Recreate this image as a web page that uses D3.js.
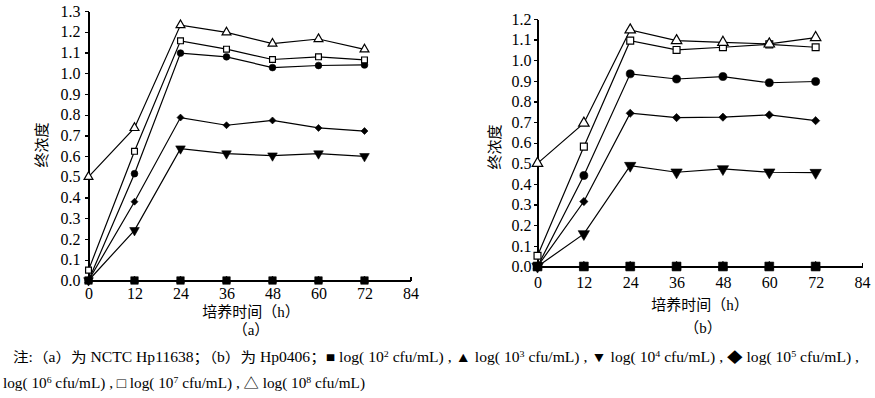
<!DOCTYPE html>
<html>
<head>
<meta charset="utf-8">
<script src="https://cdn.jsdelivr.net/npm/d3@7/dist/d3.min.js"></script>
<style>
	html, body { margin: 0; padding: 0; background: #fff; }
	svg { display: block; }
	.axis path, .axis line { stroke: #000; stroke-width: 1.3px; shape-rendering: crispEdges; }
	.series-line { fill: none; stroke: #000; stroke-width: 1.2px; }
	.cjk { font-family: "Liberation Serif", "Tinos", "Times New Roman", "Noto Sans CJK SC", serif; fill: #000; }
</style>
</head>
<body>
<svg id="chart" width="875" height="398"></svg>
<script>
// sampling times (h)
const times = [0, 12, 24, 36, 48, 60, 72];
const xTicks = [0, 12, 24, 36, 48, 60, 72, 84];

// exponent of the inoculum, log(10^n cfu/mL)
const exponents = [2, 3, 4, 5, 6, 7, 8];

// (a) NCTC Hp11638
const a_e2 = [0, 0, 0, 0, 0, 0, 0];
const a_e3 = [0, 0, 0, 0, 0, 0, 0];
const a_e4 = [0, 0.242, 0.636, 0.612, 0.602, 0.612, 0.599];
const a_e5 = [0, 0.38, 0.786, 0.749, 0.772, 0.736, 0.721];
const a_e6 = [0, 0.515, 1.097, 1.079, 1.027, 1.037, 1.04];
const a_e7 = [0.05, 0.623, 1.156, 1.116, 1.066, 1.079, 1.064];
const a_e8 = [0.5, 0.736, 1.232, 1.197, 1.143, 1.165, 1.115];

// (b) Hp0406
const b_e2 = [0, 0, 0, 0, 0, 0, 0];
const b_e3 = [0, 0, 0, 0, 0, 0, 0];
const b_e4 = [0, 0.158, 0.489, 0.457, 0.473, 0.457, 0.455];
const b_e5 = [0, 0.315, 0.743, 0.722, 0.724, 0.735, 0.707];
const b_e6 = [0, 0.441, 0.934, 0.909, 0.921, 0.891, 0.897];
const b_e7 = [0.052, 0.581, 1.095, 1.05, 1.063, 1.077, 1.063];
const b_e8 = [0.5, 0.695, 1.147, 1.095, 1.087, 1.079, 1.11];

const yTicksA = d3.range(0, 14).map(i => i / 10);
const yTicksB = d3.range(0, 13).map(i => i / 10);

// legend symbols, same order as exponents (the 10^6 one has none in the note)
const noteSymbols = ["■", "▲", "▼", "◆", "", "□", "△"];

// --------------------------------------------------------------------

const serif = '"Liberation Serif", "Tinos", "Times New Roman", serif';

// marker per series (index into exponents)
const markers = [
	{ type: d3.symbolSquare,   size: 56, fill: "#000", rotate: 0 },
	{ type: d3.symbolTriangle, size: 26, fill: "#000", rotate: 0 },
	{ type: d3.symbolTriangle, size: 40, fill: "#000", rotate: 180 },
	{ type: d3.symbolSquare,   size: 24, fill: "#000", rotate: 45 },
	{ type: d3.symbolCircle,   size: 36, fill: "#000", rotate: 0 },
	{ type: d3.symbolSquare,   size: 34, fill: "#fff", rotate: 0 },
	{ type: d3.symbolTriangle, size: 34, fill: "#fff", rotate: 0 }
];

// draw order: 10^3 sits under the 10^2 squares on the zero line
const drawOrder = [1, 0, 2, 3, 4, 5, 6];

const svg = d3.select("#chart");

class Panel {
	constructor(opts) {
		this.opts = opts;
		this.x = d3.scaleLinear().domain([0, 84]).range(opts.xRange);
		this.y = d3.scaleLinear().domain([0, opts.yMax]).range(opts.yRange);
		this.g = svg.append("g");
	}

	drawAxes() {
		const o = this.opts;

		const yAxis = d3.axisLeft(this.y)
			.tickValues(o.yTicks)
			.tickFormat(d3.format(".1f"))
			.tickSizeInner(4)
			.tickSizeOuter(0)
			.tickPadding(o.yPad);

		this.g.append("g")
			.attr("class", "axis axis--y")
			.attr("transform", `translate(${o.xRange[0]},0)`)
			.call(yAxis);

		const xAxis = d3.axisBottom(this.x)
			.tickValues(xTicks)
			.tickSizeInner(-4)
			.tickSizeOuter(0)
			.tickPadding(o.xPad);

		this.g.append("g")
			.attr("class", "axis axis--x")
			.attr("transform", `translate(0,${o.yRange[0]})`)
			.call(xAxis);

		this.g.selectAll(".axis")
			.attr("font-family", serif)
			.attr("font-size", 16);

		this.g.selectAll(".axis text")
			.style("fill", "#000");

		this.g.append("text")
			.attr("class", "cjk")
			.attr("transform", `translate(${o.yLabelX},${o.yLabelY}) rotate(-90)`)
			.attr("text-anchor", "middle")
			.attr("dominant-baseline", "central")
			.style("font-size", "15px")
			.text("终浓度");

		this.g.append("text")
			.attr("class", "cjk")
			.attr("x", o.xLabelX)
			.attr("y", o.xLabelY)
			.attr("text-anchor", "middle")
			.attr("dominant-baseline", "central")
			.style("font-size", "15px")
			.text("培养时间（h）");

		this.g.append("text")
			.attr("class", "cjk")
			.attr("x", o.tagX)
			.attr("y", o.tagY)
			.attr("text-anchor", "middle")
			.attr("dominant-baseline", "central")
			.style("font-size", "15px")
			.text(o.tag);
	}

	drawSeries(series) {
		const line = d3.line()
			.x((d, i) => this.x(times[i]))
			.y(d => this.y(d));

		drawOrder.forEach(k => {
			this.g.append("path")
				.attr("class", "series-line")
				.attr("d", line(series[k]));
		});

		drawOrder.forEach(k => {
			const m = markers[k];
			const sym = d3.symbol().type(m.type).size(m.size * this.opts.markerScale);

			this.g.selectAll(null)
				.data(series[k])
				.enter()
				.append("path")
				.attr("d", sym)
				.attr("transform", (d, i) => `translate(${this.x(times[i])},${this.y(d)}) rotate(${m.rotate})`)
				.style("fill", m.fill)
				.style("stroke", "#000")
				.style("stroke-width", m.fill === "#fff" ? 1.2 : 0.6);
		});
	}
}

const panelA = new Panel({
	xRange: [88.5, 410.5], yRange: [280.5, 11], yMax: 1.3, yTicks: yTicksA,
	yPad: 4, xPad: 7,
	yLabelX: 42, yLabelY: 145,
	xLabelX: 251, xLabelY: 312,
	tag: "（a）", tagX: 251, tagY: 330,
	markerScale: 1.0
});
panelA.drawAxes();
panelA.drawSeries([a_e2, a_e3, a_e4, a_e5, a_e6, a_e7, a_e8]);

const panelB = new Panel({
	xRange: [537.5, 862], yRange: [266.5, 19], yMax: 1.2, yTicks: yTicksB,
	yPad: 2, xPad: 10,
	yLabelX: 495, yLabelY: 147,
	xLabelX: 700, xLabelY: 305,
	tag: "（b）", tagX: 703, tagY: 328,
	markerScale: 1.4
});
panelB.drawAxes();
panelB.drawSeries([b_e2, b_e3, b_e4, b_e5, b_e6, b_e7, b_e8]);

// --------------------------------------------------------------------
// note below the two plots

function noteLine(x, y, width, prefix, idx) {
	const t = svg.append("text")
		.attr("class", "cjk")
		.attr("x", x)
		.attr("y", y)
		.attr("textLength", width)
		.attr("lengthAdjust", "spacingAndGlyphs")
		.style("font-size", "14px");

	t.append("tspan").text(prefix);

	idx.forEach((k, j) => {
		const sym = noteSymbols[k];
		t.append("tspan").text((sym ? sym + " " : "") + "log( 10");
		t.append("tspan").attr("dy", -5).style("font-size", "9px").text(exponents[k]);
		t.append("tspan").attr("dy", 5).text(" cfu/mL)" + (j < idx.length - 1 || idx[idx.length - 1] < 4 ? " , " : ""));
	});
}

noteLine(13, 362, 846, "注:（a）为 NCTC Hp11638；（b）为 Hp0406；", [0, 1, 2, 3]);
noteLine(3, 388, 362, "", [4, 5, 6]);
</script>
</body>
</html>
